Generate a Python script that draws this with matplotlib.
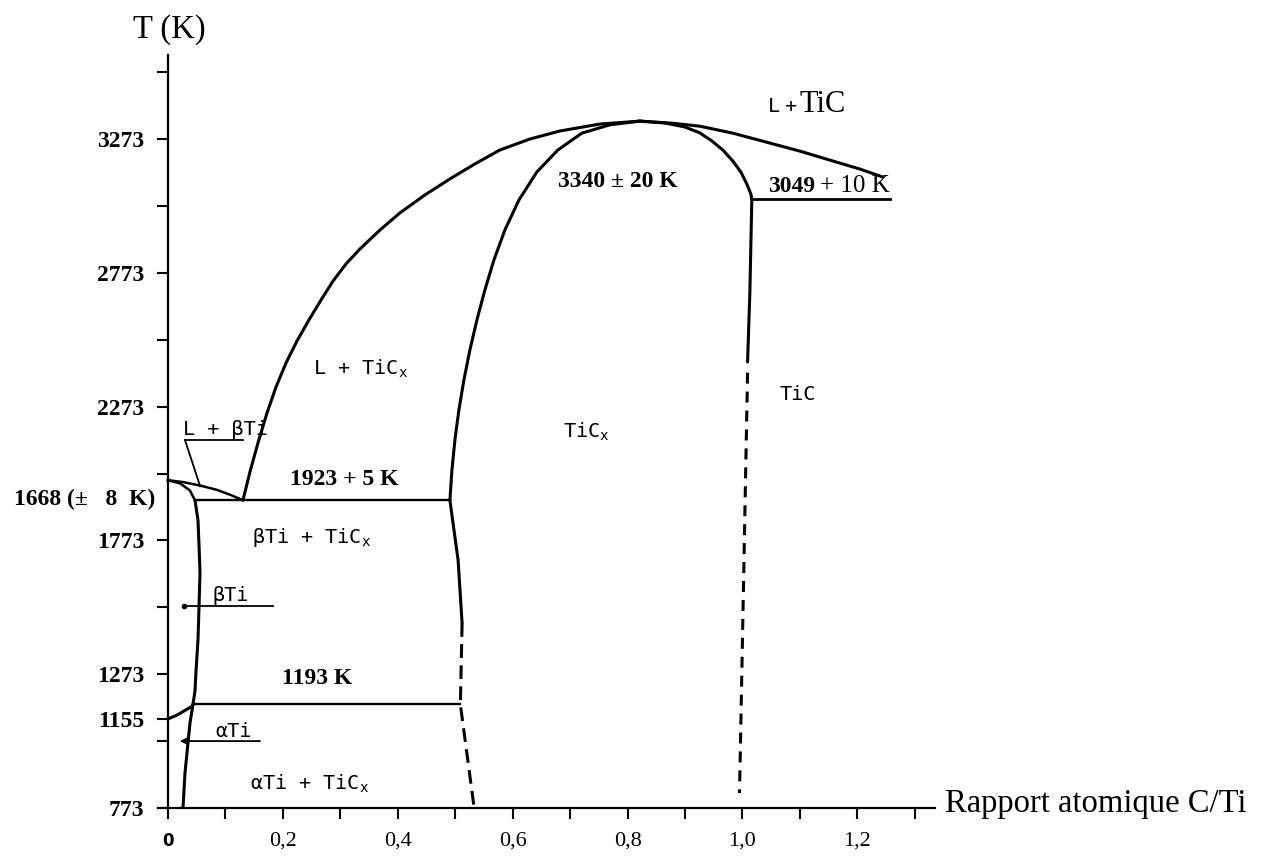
import matplotlib.pyplot as plt
import numpy as np

# Ti-C phase diagram, x = atomic ratio C/Ti, y = temperature in K

# liquidus L / L + TiCx
liq_left_c = [0.1305, 0.1427, 0.1566, 0.1723, 0.188, 0.2054, 0.2245, 0.2454, 0.2663, 0.2872, 0.3098,
              0.3341, 0.369, 0.4038, 0.4473, 0.4908, 0.5343, 0.5778, 0.63, 0.6822, 0.7518, 0.8214]
liq_left_t = [1923, 2029, 2137, 2249, 2346, 2436, 2518, 2597, 2671, 2742, 2806,
              2862, 2933, 2997, 3064, 3124, 3180, 3232, 3273, 3303, 3329, 3340]
# liquidus L / L + TiC
liq_right_c = [0.8214, 0.8789, 0.9259, 0.9833, 1.0477, 1.0999, 1.1573, 1.2043, 1.2444]
liq_right_t = [3340, 3332, 3321, 3295, 3258, 3228, 3191, 3161, 3131]
# solidus of TiCx, Ti-rich side
sol_left_c = [0.4908, 0.4943, 0.4995, 0.5064, 0.5151, 0.5256, 0.5378, 0.5517, 0.5674, 0.5865,
              0.6109, 0.6422, 0.6787, 0.7205, 0.7692, 0.8214]
sol_left_t = [1923, 2036, 2148, 2260, 2372, 2485, 2597, 2709, 2821, 2933,
              3045, 3150, 3232, 3295, 3326, 3340]
# solidus of TiCx, C-rich side
sol_right_c = [0.8214, 0.8649, 0.8998, 0.9259, 0.9468, 0.9659, 0.9833, 0.9972, 1.0077, 1.0146, 1.0164]
sol_right_t = [3340, 3333, 3318, 3296, 3266, 3232, 3191, 3150, 3105, 3068, 3049]
# TiC boundary below the peritectic
tic_solid_c = [1.0164, 1.013, 1.009]
tic_solid_t = [3049, 2700, 2440]
tic_dash_c = [1.009, 0.995]
tic_dash_t = [2400, 829]
# TiCx solvus towards the Ti side
solvus_c = [0.4908, 0.505, 0.512]
solvus_t = [1923, 1700, 1464]
solvus_dash_c = [0.512, 0.509, 0.533]
solvus_dash_t = [1464, 1193, 773]
# beta Ti / beta Ti + TiCx
beta_c = [0.047, 0.0522, 0.054, 0.0557, 0.054, 0.0522, 0.0487, 0.047, 0.0435]
beta_t = [1923, 1849, 1756, 1651, 1524, 1401, 1281, 1229, 1193]
# alpha Ti / alpha Ti + TiCx
alpha_c = [0.0435, 0.0383, 0.0296, 0.0261]
alpha_t = [1193, 1131, 904, 773]
# alpha / beta transus of pure Ti
ab_c = [0.0, 0.0157, 0.0418, 0.0435]
ab_t = [1155, 1165, 1188, 1193]
# melting lens of beta Ti
lens_liq_c = [0.0, 0.026, 0.056, 0.085, 0.11, 0.1305]
lens_liq_t = [1998, 1991, 1978, 1962, 1942, 1923]
lens_sol_c = [0.0, 0.021, 0.038, 0.047]
lens_sol_t = [1998, 1986, 1960, 1923]
# invariant lines
eutectic_c, eutectic_t = [0.047, 0.4908], 1923
eutectoid_c, eutectoid_t = [0.0435, 0.508], 1193
peritectic_c, peritectic_t = [1.0164, 1.257], 3049

ticks_t = [773, 1023, 1155, 1273, 1523, 1773, 2023, 2273, 2523, 2773, 3023, 3273, 3523]
ticks_t_labels = ['773', '', '1155', '1273', '', '1773', '', '2273', '', '2773', '', '3273', '']
ticks_c = [0, 0.1, 0.2, 0.3, 0.4, 0.5, 0.6, 0.7, 0.8, 0.9, 1.0, 1.1, 1.2, 1.3]
ticks_c_labels = ['0', '', '0,2', '', '0,4', '', '0,6', '', '0,8', '', '1,0', '', '1,2', '']

# the printed T axis is not evenly spaced around 1155 K
warp_t = [-1e6, 1023, 1155, 1273, 1e6]
warp_pos = [-1e6, 1023, 1106, 1273, 1e6]


def fwd(t):
    return np.interp(t, warp_t, warp_pos)


def inv(p):
    return np.interp(p, warp_pos, warp_t)


serif = 'Liberation Serif'
mono = 'DejaVu Sans Mono'

fig = plt.figure(figsize=(12.63, 8.57), dpi=100)
ax = fig.add_axes([0.1251, 0.0572, 0.6152, 0.8786])
ax.set_yscale('function', functions=(fwd, inv))
ax.set_xlim(-0.0174, 1.3353)
ax.set_ylim(773, 3587)

lw = 2.2
k = 'black'
for cx, ty in [(liq_left_c, liq_left_t), (liq_right_c, liq_right_t),
               (sol_left_c, sol_left_t), (sol_right_c, sol_right_t),
               (tic_solid_c, tic_solid_t), (solvus_c, solvus_t),
               (beta_c, beta_t), (alpha_c, alpha_t), (ab_c, ab_t)]:
    ax.plot(cx, ty, color=k, lw=lw, solid_capstyle='round', solid_joinstyle='round')
ax.plot(lens_liq_c, lens_liq_t, color=k, lw=1.8)
ax.plot(lens_sol_c, lens_sol_t, color=k, lw=1.8)
ax.plot(tic_dash_c, tic_dash_t, color=k, lw=lw, linestyle=(0, (3.6, 2.6)))
ax.plot(solvus_dash_c, solvus_dash_t, color=k, lw=lw, linestyle=(0, (4.5, 2.4)))

ax.plot(eutectic_c, [eutectic_t] * 2, color=k, lw=1.7)
ax.plot(eutectoid_c, [eutectoid_t] * 2, color=k, lw=1.7)
ax.plot(peritectic_c, [peritectic_t] * 2, color=k, lw=2.0)

# leader lines for the narrow fields
ax.plot([0.0296, 0.1305], [2148, 2148], color=k, lw=1.3)
ax.plot([0.0296, 0.056], [2148, 1975], color=k, lw=1.3)
ax.plot([0.028, 0.183], [1528, 1528], color=k, lw=1.3)
ax.plot([0.028], [1528], 'o', color=k, ms=3)
ax.annotate('', xy=(0.0157, 1023), xytext=(0.165, 1023),
            arrowprops=dict(arrowstyle='-|>', color=k, lw=1.3, mutation_scale=9))

# axes
for s in ['top', 'right']:
    ax.spines[s].set_visible(False)
ax.spines['left'].set_position(('data', 0))
ax.spines['left'].set_linewidth(1.6)
ax.spines['bottom'].set_linewidth(1.6)
ax.tick_params(direction='out', length=8, width=1.5)
ax.tick_params(axis='y', pad=9)
ax.tick_params(axis='x', pad=9)
ax.set_yticks(ticks_t, ticks_t_labels, fontfamily=serif, fontweight='bold', fontsize=17)
ax.set_xticks(ticks_c, ticks_c_labels, fontfamily=serif, fontsize=16)
ax.yaxis.set_minor_locator(plt.NullLocator())
zero = ax.get_xticklabels()[0]
zero.set_fontfamily('DejaVu Sans')
zero.set_fontweight('bold')
zero.set_fontsize(12)

fig.text(0.1053, 0.9557, 'T (K)', fontfamily=serif, fontsize=23.5, va='baseline')
fig.text(0.7482, 0.0525, 'Rapport atomique C/Ti', fontfamily=serif, fontsize=23.5, va='baseline')
ax.text(-0.0226, 1905, '1668 (±   8  K)', fontfamily=serif, fontweight='bold', fontsize=17,
        ha='right', va='baseline')

# field names
fields = [
    (0.026, 2167, 'L + βTi'),
    (0.252, 2391, 'L + Ti$\\mathregular{C_x}$'),
    (0.146, 1763, 'βTi + Ti$\\mathregular{C_x}$'),
    (0.078, 1547, 'βTi'),
    (0.082, 1047, 'αTi'),
    (0.143, 840, 'αTi + Ti$\\mathregular{C_x}$'),
    (0.687, 2156, 'Ti$\\mathregular{C_x}$'),
    (1.065, 2298, 'TiC'),
    (1.044, 3374, 'L'),
    (1.072, 3374, '+'),
]
for cx, ty, s in fields:
    ax.text(cx, ty, s, fontfamily=mono, fontsize=14.5, va='baseline')
ax.text(1.100, 3374, 'TiC', fontfamily=serif, fontsize=22, va='baseline')

# invariant temperatures
ax.text(0.212, 1980, '1923 + 5 K', fontfamily=serif, fontweight='bold', fontsize=17, va='baseline')
ax.text(0.198, 1247, '1193 K', fontfamily=serif, fontweight='bold', fontsize=17, va='baseline')
ax.text(0.679, 3094, '3340 ± 20 K', fontfamily=serif, fontweight='bold', fontsize=17, va='baseline')
ax.text(1.044, 3075, '3049', fontfamily=serif, fontweight='bold', fontsize=17, va='baseline')
ax.text(1.135, 3075, '+ 10 K', fontfamily=serif, fontsize=18, va='baseline')

fig.savefig('out.png', dpi=100)
